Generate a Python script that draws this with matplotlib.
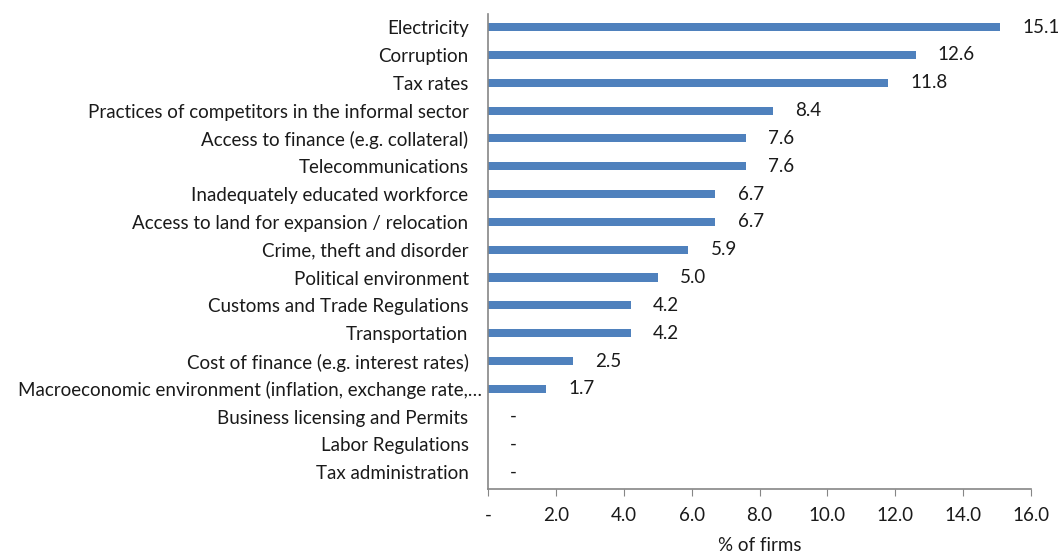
import numpy as np
import matplotlib.pyplot as plt
import matplotlib.transforms as mtransforms
from matplotlib.ticker import FuncFormatter

categories = [
    'Electricity',
    'Corruption',
    'Tax rates',
    'Practices of competitors in the informal sector',
    'Access to finance (e.g. collateral)',
    'Telecommunications',
    'Inadequately educated workforce',
    'Access to land for expansion / relocation',
    'Crime, theft and disorder',
    'Political environment',
    'Customs and Trade Regulations',
    'Transportation',
    'Cost of finance (e.g. interest rates)',
    'Macroeconomic environment (inflation, exchange rate,\u2026',
    'Business licensing and Permits',
    'Labor Regulations',
    'Tax administration',
]
values = [15.1, 12.6, 11.8, 8.4, 7.6, 7.6, 6.7, 6.7, 5.9, 5.0, 4.2, 4.2, 2.5, 1.7, 0.0, 0.0, 0.0]
xticks = [0, 2, 4, 6, 8, 10, 12, 14, 16]

plt.rcParams['font.family'] = ['Lato', 'DejaVu Sans']
plt.rcParams['font.size'] = 13.5

fig = plt.figure(figsize=(10.61, 5.53), dpi=100)
ax = fig.add_axes([0.46, 0.1157, 0.5117, 0.859])

pos = np.arange(len(categories))
ax.barh(pos, values, height=0.29, color='#4f81bd')

for p, v in zip(pos, values):
    txt = '-' if v == 0 else f'{v:.1f}'
    ax.annotate(txt, (v, p), xytext=(16, 0), textcoords='offset points',
                va='center', ha='left', color='#1a1a1a')

ax.set_yticks(pos)
ax.set_yticklabels(categories, color='#1a1a1a')
ax.set_ylim(16.6, -0.47)
ax.set_xlim(0, 16)
ax.set_xticks(xticks)
ax.xaxis.set_major_formatter(FuncFormatter(lambda x, _: '-' if x == 0 else f'{x:.1f}'))
ax.tick_params(axis='y', length=0, pad=14)
ax.tick_params(axis='x', length=5, color='#868686', pad=8, labelcolor='#1a1a1a')

# the long truncated label spills a little towards the axis
for lab in ax.get_yticklabels():
    if lab.get_text().endswith('\u2026'):
        lab.set_transform(lab.get_transform() +
                          mtransforms.ScaledTranslation(9.5 / 72, 0, fig.dpi_scale_trans))

for side in ['top', 'right']:
    ax.spines[side].set_visible(False)
for side in ['left', 'bottom']:
    ax.spines[side].set_color('#868686')
    ax.spines[side].set_linewidth(1.2)

ax.set_xlabel('% of firms', color='#1a1a1a', labelpad=9)

plt.savefig('out.png', dpi=100)
